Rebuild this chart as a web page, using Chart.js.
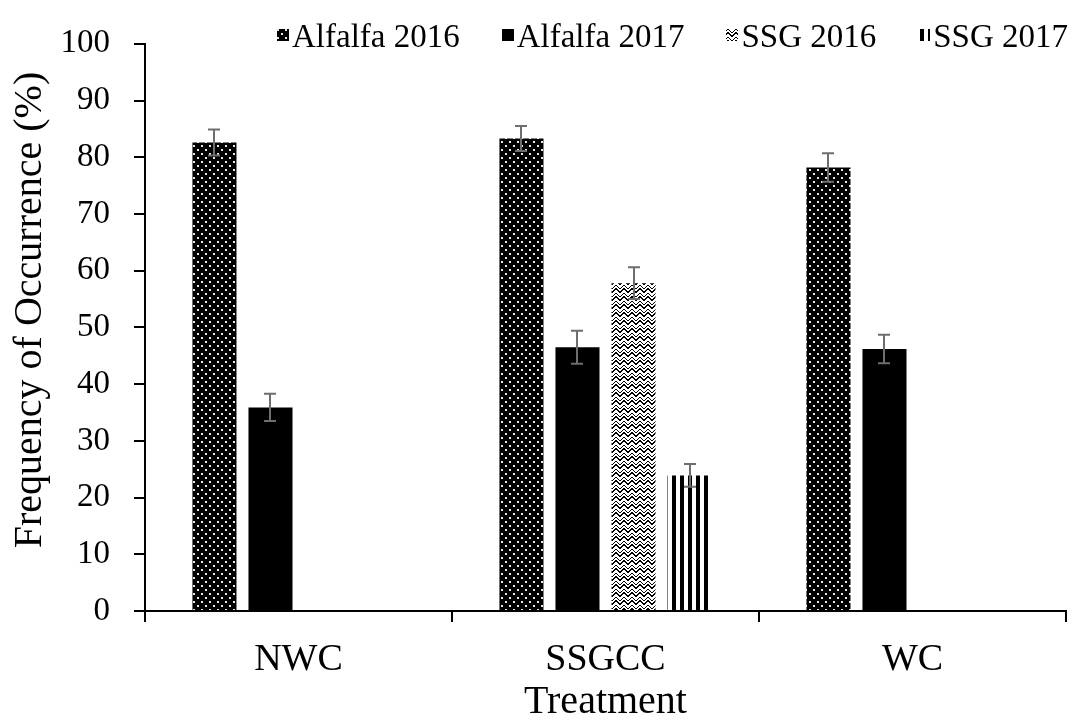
<!DOCTYPE html>
<html>
<head>
<meta charset="utf-8">
<script src="https://cdn.jsdelivr.net/npm/chart.js@4.4.1/dist/chart.umd.min.js"></script>
<style>
  html, body { margin: 0; padding: 0; background: #ffffff; }
  #wrap { width: 1076px; height: 724px; }
</style>
</head>
<body>
<div id="wrap"><canvas id="chart" width="1076" height="724"></canvas></div>
<script>
// ---- data ----
const treatments = ['NWC', 'SSGCC', 'WC'];
const seriesNames = ['Alfalfa 2016', 'Alfalfa 2017', 'SSG 2016', 'SSG 2017'];
const alfalfa2016 = [82.6, 83.3, 78.2];
const alfalfa2017 = [35.9, 46.5, 46.2];
const ssg2016 = [null, 57.8, null];
const ssg2017 = [null, 23.9, null];
const alfalfa2016Err = [2.3, 2.2, 2.5];
const alfalfa2017Err = [2.4, 2.9, 2.5];
const ssg2016Err = [null, 2.8, null];
const ssg2017Err = [null, 2.0, null];
const yMin = 0, yMax = 100, yStep = 10;
const yTitle = 'Frequency of Occurrence (%)';
const xTitle = 'Treatment';

const FONT = 'Liberation Serif, Times New Roman, serif';

// ---- fill patterns ----
function makeTile(w, h, paint) {
  const c = document.createElement('canvas');
  c.width = w; c.height = h;
  paint(c.getContext('2d'));
  return document.getElementById('chart').getContext('2d').createPattern(c, 'repeat');
}
// black with staggered light dots
const dotPattern = makeTile(8, 8, g => {
  g.fillStyle = '#000'; g.fillRect(0, 0, 8, 8);
  g.fillStyle = '#e6e6e6';
  g.fillRect(1, 1, 2, 2);
  g.fillRect(5, 5, 2, 2);
});
// white with bold black chevrons
const zigPattern = makeTile(8, 8, g => {
  g.fillStyle = '#fff'; g.fillRect(0, 0, 8, 8);
  g.fillStyle = '#000';
  const tri = [0, 1, 2, 3, 3, 2, 1, 0];
  for (let x = 0; x < 8; x++) {
    const y = tri[x];
    g.fillRect(x, y, 1, 2);
    g.fillRect(x, (y + 5) % 8, 1, 1);
  }
});
// white with vertical black stripes
const stripePattern = makeTile(8, 8, g => {
  g.fillStyle = '#fff'; g.fillRect(0, 0, 8, 8);
  g.fillStyle = '#000'; g.fillRect(0, 0, 4, 8);
});

const fills = [dotPattern, '#000000', zigPattern, stripePattern];
const values = [alfalfa2016, alfalfa2017, ssg2016, ssg2017];
const errors = [alfalfa2016Err, alfalfa2017Err, ssg2016Err, ssg2017Err];

// ---- error bars ----
const errorBarPlugin = {
  id: 'errorBars',
  afterDatasetsDraw(chart) {
    const ctx = chart.ctx;
    const y = chart.scales.y;
    ctx.save();
    ctx.strokeStyle = '#6e6e6e';
    ctx.lineWidth = 2;
    chart.data.datasets.forEach((ds, i) => {
      const meta = chart.getDatasetMeta(i);
      meta.data.forEach((bar, j) => {
        const v = ds.data[j], e = ds.errors[j];
        if (v == null || e == null) return;
        const x = Math.round(bar.x);
        const yt = y.getPixelForValue(v + e);
        const yb = y.getPixelForValue(v - e);
        ctx.beginPath();
        ctx.moveTo(x, yt); ctx.lineTo(x, yb);
        ctx.moveTo(x - 6, yt); ctx.lineTo(x + 6, yt);
        ctx.moveTo(x - 6, yb); ctx.lineTo(x + 6, yb);
        ctx.stroke();
      });
    });
    ctx.restore();
  }
};

// ---- legend across the top of the plot, and the vertical axis title ----
const annotatePlugin = {
  id: 'annotate',
  afterDraw(chart) {
    const ctx = chart.ctx;
    ctx.save();
    ctx.font = '33px ' + FONT;
    ctx.textBaseline = 'middle';
    ctx.fillStyle = '#000';
    const box = 12, gapText = 3, gapItem = 42, cy = 37;
    const items = chart.data.datasets.map(ds => ({
      ds, w: ctx.measureText(ds.label).width
    }));
    const total = items.reduce((s, it) => s + box + gapText + it.w, 0) + gapItem * (items.length - 1);
    let x = 1068 - total;
    items.forEach(it => {
      ctx.fillStyle = it.ds.backgroundColor;
      ctx.fillRect(Math.round(x), cy - 8, box, box);
      ctx.fillStyle = '#000';
      ctx.fillText(it.ds.label, x + box + gapText, cy + 1);
      x += box + gapText + it.w + gapItem;
    });

    // y axis title
    ctx.font = '40px ' + FONT;
    ctx.textAlign = 'center';
    ctx.textBaseline = 'middle';
    ctx.translate(30, 310);
    ctx.rotate(-Math.PI / 2);
    ctx.fillText(yTitle, 0, 0);
    ctx.restore();
  }
};

new Chart(document.getElementById('chart'), {
  type: 'bar',
  data: {
    labels: treatments,
    datasets: seriesNames.map((name, i) => ({
      label: name,
      data: values[i],
      errors: errors[i],
      backgroundColor: fills[i],
      borderWidth: 0,
      categoryPercentage: 0.73,
      barPercentage: 0.786
    }))
  },
  plugins: [errorBarPlugin, annotatePlugin],
  options: {
    responsive: false,
    animation: false,
    devicePixelRatio: 1,
    layout: { padding: { top: 24, right: 10, bottom: 0, left: 0 } },
    plugins: { legend: { display: false }, tooltip: { enabled: false } },
    scales: {
      x: {
        grid: { display: true, drawOnChartArea: false, drawTicks: true, tickLength: 11, color: '#000', lineWidth: 2, offset: true },
        border: { display: true, color: '#000', width: 2 },
        ticks: { color: '#000', font: { family: FONT, size: 38 }, padding: 15 },
        title: { display: true, text: xTitle, color: '#000', font: { family: FONT, size: 40, lineHeight: 1 }, padding: { top: 0, bottom: 2 } },
        afterFit(scale) { scale.height = 113; }
      },
      y: {
        min: yMin, max: yMax,
        grid: { display: true, drawOnChartArea: false, drawTicks: true, tickLength: 11, color: '#000', lineWidth: 2 },
        border: { display: true, color: '#000', width: 2 },
        ticks: { stepSize: yStep, color: '#000', font: { family: FONT, size: 33 }, padding: 24 },
        title: { display: false },
        afterFit(scale) { scale.width = 145; }
      }
    }
  }
});
</script>
</body>
</html>
